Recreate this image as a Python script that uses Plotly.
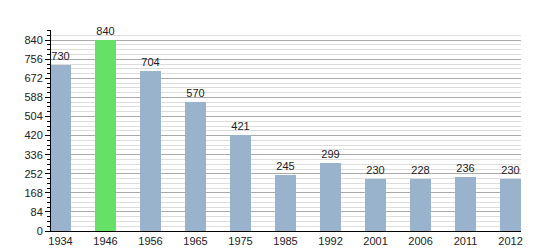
import plotly.graph_objects as go

years = ["1934", "1946", "1956", "1965", "1975", "1985", "1992", "2001", "2006", "2011", "2012"]
population = [730, 840, 704, 570, 421, 245, 299, 230, 228, 236, 230]
highlight_year = "1946"
y_ticks = [0, 84, 168, 252, 336, 420, 504, 588, 672, 756, 840]

colors = ["#66e066" if y == highlight_year else "#9ab3cd" for y in years]
xpos = list(range(len(years)))

fig = go.Figure()
fig.add_trace(go.Bar(
    x=xpos, y=population, width=0.467,
    marker=dict(color=colors, line=dict(width=0)),
    text=[str(v) for v in population], textposition="outside",
    textfont=dict(family="Liberation Sans, Arial", size=11, color="#222"),
    cliponaxis=False,
))

fig.update_layout(
    width=550, height=250,
    margin=dict(l=51, r=29, t=30, b=19, autoexpand=False),
    paper_bgcolor="white", plot_bgcolor="white",
    showlegend=False, bargap=0,
    font=dict(family="Liberation Sans, Arial", size=11, color="#222"),
    xaxis=dict(
        tickmode="array", tickvals=xpos, ticktext=years,
        range=[-0.211, 10.233], showgrid=False, zeroline=False,
        showline=True, linecolor="black", linewidth=1,
        ticks="", ticklen=0, tickfont=dict(size=11), automargin=False,
    ),
    yaxis=dict(
        range=[0, 885], tickmode="array", tickvals=y_ticks,
        showgrid=True, gridcolor="#aaaaaa", gridwidth=1,
        zeroline=False, showline=True, linecolor="black", linewidth=1,
        ticks="outside", ticklen=5, tickcolor="black", automargin=False,
        minor=dict(dtick=21, tick0=0, showgrid=True, gridcolor="#dddddd",
                   ticks="outside", ticklen=3, tickcolor="black"),
        tickfont=dict(size=11),
    ),
)

fig.write_html("out.html")
